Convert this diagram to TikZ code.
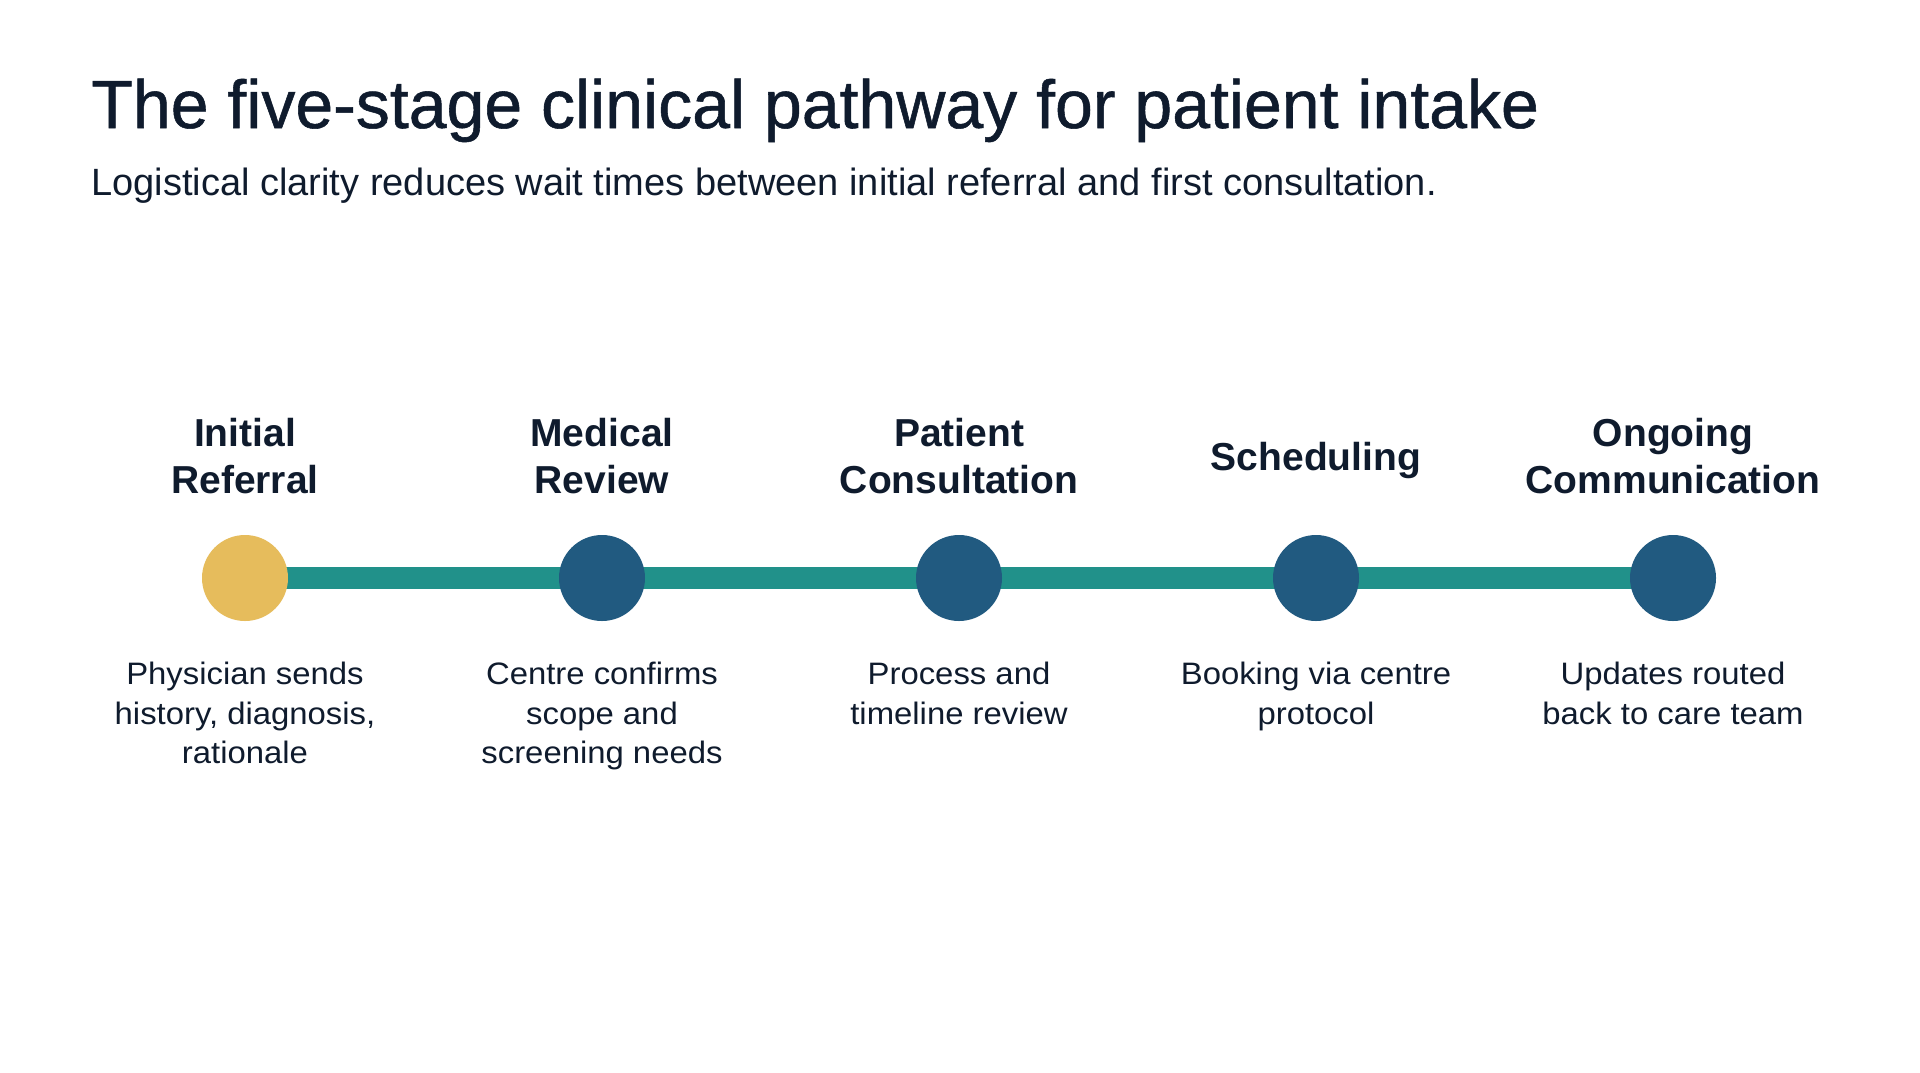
\documentclass[tikz,border=0pt]{standalone}
\usepackage{fontspec}
\setmainfont{Liberation Sans}
\newfontfamily\titlefont{Liberation Sans}
\newfontfamily\mainheadfont[FakeBold=0.8]{Liberation Sans}
\newfontfamily\descfont[FakeStretch=1.06]{Liberation Sans}
\usetikzlibrary{backgrounds}
\definecolor{ink}{HTML}{0F1B2D}
\definecolor{teal}{HTML}{21918A}
\definecolor{navy}{HTML}{215A80}
\definecolor{gold}{HTML}{E6BC5C}
\tikzset{
  stagedot/.style={circle, minimum size=43pt, inner sep=0pt, fill=navy},
  firstdot/.style={stagedot, fill=gold},
  stagehead/.style={align=center, text=ink, font=\titlefont\fontsize{19.5}{23.5}\selectfont\bfseries, inner sep=0pt},
  stagedesc/.style={align=center, text=ink, font=\descfont\fontsize{15.5}{19.7}\selectfont, inner sep=0pt, anchor=north},
  link/.style={draw=teal, line width=11pt}
}
\begin{document}
\begin{tikzpicture}[x=0.5pt,y=-0.5pt]
\begin{pgfonlayer}{background}
\fill[white] (0,0) rectangle (1920,1072);
\end{pgfonlayer}
\useasboundingbox (0,0) rectangle (1920,1072);
\node[anchor=base west, inner sep=0pt, text=ink, font=\mainheadfont\fontsize{34}{40}\selectfont] (title) at (91,128) {The five-stage clinical pathway for patient intake};
\node[anchor=base west, inner sep=0pt, text=ink, font=\titlefont\fontsize{19}{22}\selectfont] (subtitle) at (91,195) {Logistical clarity reduces wait times between initial referral and first consultation.};

\node[firstdot] (d1) at (245,578) {};
\node[stagedot] (d2) at (602,578) {};
\node[stagedot] (d3) at (959,578) {};
\node[stagedot] (d4) at (1316,578) {};
\node[stagedot] (d5) at (1673,578) {};
\begin{pgfonlayer}{background}
\draw[link] (d1.center) -- (d2.center);
\draw[link] (d2.center) -- (d3.center);
\draw[link] (d3.center) -- (d4.center);
\draw[link] (d4.center) -- (d5.center);
\end{pgfonlayer}

\node[stagehead] (h1) at (245,456.5) {Initial\\Referral};
\node[stagehead] (h2) at (602,456.5) {Medical\\Review};
\node[stagehead] (h3) at (959,456.5) {Patient\\Consultation};
\node[stagehead] (h4) at (1316,460) {Scheduling};
\node[stagehead] (h5) at (1673,456.5) {Ongoing\\Communication};

\node[stagedesc] (t1) at (245,662) {Physician sends\\history, diagnosis,\\rationale};
\node[stagedesc] (t2) at (602,662) {Centre confirms\\scope and\\screening needs};
\node[stagedesc] (t3) at (959,662) {Process and\\timeline review};
\node[stagedesc] (t4) at (1316,662) {Booking via centre\\protocol};
\node[stagedesc] (t5) at (1673,662) {Updates routed\\back to care team};
\end{tikzpicture}
\end{document}
